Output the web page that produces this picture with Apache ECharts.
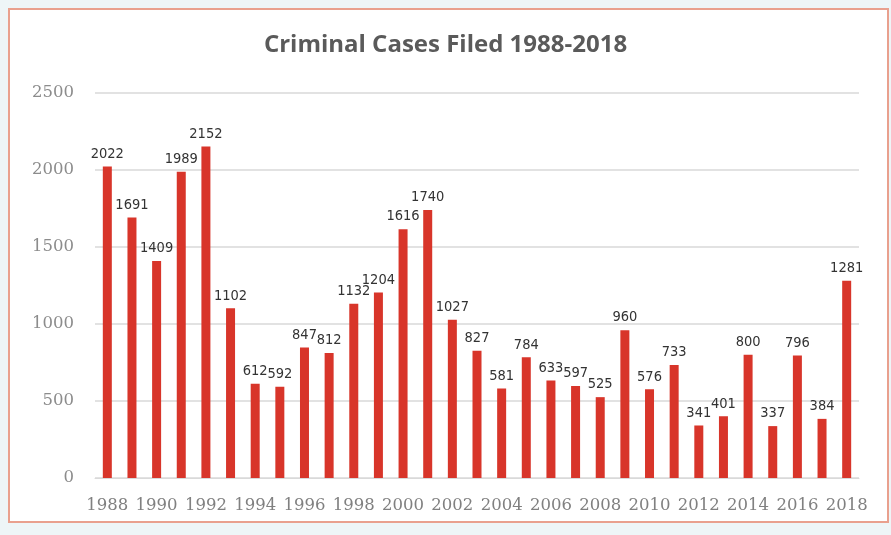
<!DOCTYPE html>
<html><head><meta charset="utf-8">
<script src="https://cdn.jsdelivr.net/npm/echarts@6/dist/echarts.min.js"></script>
<style>
html,body{margin:0;padding:0;background:#eef5f7;width:891px;height:535px;overflow:hidden}
#frame{position:absolute;left:8px;top:8px;width:881px;height:515px;border:2px solid #e9a08e;background:#fff;box-sizing:border-box}
#c{position:absolute;left:0;top:0;width:891px;height:535px}
</style></head><body>
<div id="frame"></div>
<div id="c"></div>
<script>
var title = 'Criminal Cases Filed 1988-2018';
var years = ['1988','1989','1990','1991','1992','1993','1994','1995','1996','1997','1998','1999','2000','2001','2002','2003','2004','2005','2006','2007','2008','2009','2010','2011','2012','2013','2014','2015','2016','2017','2018'];
var cases = [2022,1691,1409,1989,2152,1102,612,592,847,812,1132,1204,1616,1740,1027,827,581,784,633,597,525,960,576,733,341,401,800,337,796,384,1281];
var yTicks = [0,500,1000,1500,2000,2500];

var chart = echarts.init(document.getElementById('c'), null, {renderer:'canvas'});
chart.setOption({
  backgroundColor: 'transparent',
  animation: false,
  title: {
    text: title, left: 'center', top: 28,
    textStyle: {fontFamily: 'Open Sans', fontSize: 24, fontWeight: 'bold', color: '#5a5a5a'}
  },
  grid: {left: 95, right: 32, top: 93, bottom: 57},
  xAxis: {
    type: 'category', data: years,
    axisLine: {show: true, lineStyle: {color: '#d9d9d9'}},
    axisTick: {show: false},
    axisLabel: {interval: 1, color: '#808080', fontSize: 16.5, fontFamily: 'DejaVu Serif, serif', margin: 19}
  },
  yAxis: {
    type: 'value', min: yTicks[0], max: yTicks[yTicks.length-1], interval: 500,
    axisLine: {show: false}, axisTick: {show: false},
    splitLine: {lineStyle: {color: '#d9d9d9', width: 1.5}},
    axisLabel: {color: '#8c8c8c', fontSize: 16.5, fontFamily: 'DejaVu Serif, serif', margin: 21,
      formatter: function (v) { return String(v); }}
  },
  series: [{
    type: 'bar', data: cases, barWidth: 9,
    itemStyle: {color: '#d8352a'},
    label: {show: true, position: 'top', distance: 5, color: '#333', fontSize: 14.5,
      fontFamily: 'DejaVu Sans Condensed, sans-serif'}
  }]
});
</script>
</body></html>
